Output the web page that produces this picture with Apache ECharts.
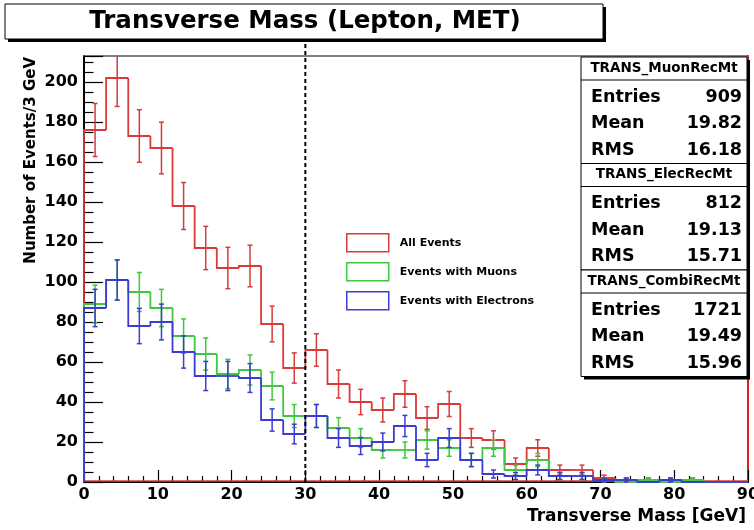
<!DOCTYPE html>
<html>
<head>
<meta charset="utf-8">
<script src="https://cdn.jsdelivr.net/npm/echarts@6/dist/echarts.min.js"></script>
<style>
  html, body { margin: 0; padding: 0; background: #ffffff; }
  #chart { width: 754px; height: 530px; }
</style>
</head>
<body>
<div id="chart"></div>
<script>
// Transverse mass histograms, 3 GeV bins between 0 and 90 GeV
const binWidth = 3;
const binStarts = [0, 3, 6, 9, 12, 15, 18, 21, 24, 27, 30, 33, 36, 39, 42, 45, 48, 51, 54, 57, 60, 63, 66, 69, 72, 75, 78, 81, 84, 87];
const allEvents  = [176, 202, 173, 167, 138, 117, 107, 108, 79, 57, 66, 49, 40, 36, 44, 32, 39, 22, 21, 9, 17, 6, 6, 2, 1, 1, 1, 1, 0, 0];
const muonEvents = [89, 101, 95, 87, 73, 64, 54, 56, 48, 33, 33, 27, 22, 16, 16, 21, 17, 11, 17, 6, 11, 3, 3, 1, 0, 1, 0, 1, 0, 0];
const elecEvents = [87, 101, 78, 80, 65, 53, 53, 52, 31, 24, 33, 22, 18, 20, 28, 11, 22, 11, 4, 3, 6, 3, 3, 1, 1, 0, 1, 0, 0, 0];
const seriesNames = ['All Events', 'Events with Muons', 'Events with Electrons'];

// Vertical cut line at 30 GeV
const cutLine = [[30, 0, 221]];

// Statistics boxes
const statTitles  = ['TRANS_MuonRecMt', 'TRANS_ElecRecMt', 'TRANS_CombiRecMt'];
const statEntries = ['909', '812', '1721'];
const statMeans   = ['19.82', '19.13', '19.49'];
const statRms     = ['16.18', '15.71', '15.96'];

const X_MIN = 0, X_MAX = 90, Y_MIN = 0, Y_MAX = 213;
const FONT = '"DejaVu Sans", "Liberation Sans", sans-serif';
const RED = '#d93a3a', GREEN = '#3fc83f', BLUE = '#3c3cd4';

function histSeries(name, values, color, drawBaseline) {
  const data = values.map((v, i) => [binStarts[i], binStarts[i] + binWidth, v, i > 0 ? values[i - 1] : 0]);
  return {
    type: 'custom',
    name: name,
    data: data,
    clip: false,
    itemStyle: { color: color },
    encode: { x: [0, 1], y: [2] },
    renderItem: function (params, api) {
      const x0 = api.value(0), x1 = api.value(1), v = api.value(2), prev = api.value(3);
      const clampV = t => Math.max(Y_MIN, Math.min(Y_MAX, t));
      const line = { stroke: color, lineWidth: 1.8, fill: null };
      const pPrev = api.coord([x0, clampV(prev)]);
      const pL = api.coord([x0, clampV(v)]);
      const pR = api.coord([x1, clampV(v)]);
      const children = [{ type: 'polyline', shape: { points: [pPrev, pL, pR] }, style: line }];
      if (drawBaseline) {
        const b0 = api.coord([x0, 0]), b1 = api.coord([x1, 0]);
        children.push({ type: 'line', shape: { x1: b0[0], y1: b0[1] - 1, x2: b1[0], y2: b1[1] - 1 }, style: { stroke: color, lineWidth: 1.5 } });
      }
      if (v > 0) {
        // Poisson uncertainty of the bin content
        const err = Math.sqrt(v);
        const xc = (x0 + x1) / 2;
        const hiV = v + err, loV = v - err;
        const pHi = api.coord([xc, clampV(hiV)]);
        const pLo = api.coord([xc, clampV(loV)]);
        const es = { stroke: color, lineWidth: 1.5 };
        children.push({ type: 'line', shape: { x1: pHi[0], y1: pHi[1], x2: pLo[0], y2: pLo[1] }, style: es });
        if (hiV <= Y_MAX) {
          children.push({ type: 'line', shape: { x1: pHi[0] - 2.5, y1: pHi[1], x2: pHi[0] + 2.5, y2: pHi[1] }, style: es });
        }
        children.push({ type: 'line', shape: { x1: pLo[0] - 2.5, y1: pLo[1], x2: pLo[0] + 2.5, y2: pLo[1] }, style: es });
      }
      return { type: 'group', children: children };
    }
  };
}

const cutSeries = {
  type: 'custom',
  name: 'cut',
  data: cutLine,
  clip: false,
  silent: true,
  z: 5,
  renderItem: function (params, api) {
    const p0 = api.coord([api.value(0), api.value(1)]);
    const p1 = api.coord([api.value(0), api.value(2)]);
    return { type: 'line', shape: { x1: p0[0], y1: p0[1], x2: p1[0], y2: p1[1] },
             style: { stroke: '#000', lineWidth: 2, lineDash: [4, 3] } };
  }
};

// Graphic elements: title box, statistics boxes, axis titles
const graphics = [];
graphics.push({ type: 'rect', shape: { x: 8, y: 7, width: 598, height: 35 }, style: { fill: '#000' }, z: 100 });
graphics.push({ type: 'rect', shape: { x: 5, y: 4, width: 598, height: 35 }, style: { fill: '#fff', stroke: '#000', lineWidth: 1 }, z: 101 });
graphics.push({ type: 'text', x: 305, y: 22, z: 102,
  style: { text: 'Transverse Mass (Lepton, MET)', font: 'bold 24.5px ' + FONT, fill: '#000', align: 'center', verticalAlign: 'middle' } });

const boxLeft = 581, boxWidth = 166, boxTops = [57, 163.5, 270], boxHeight = 106.5;
graphics.push({ type: 'rect', shape: { x: boxLeft + 3, y: boxTops[0] + 3, width: boxWidth, height: boxTops[2] + boxHeight - boxTops[0] }, style: { fill: '#000' }, z: 100 });
statTitles.forEach((title, i) => {
  const top = boxTops[i];
  graphics.push({ type: 'rect', shape: { x: boxLeft, y: top, width: boxWidth, height: boxHeight }, style: { fill: '#fff', stroke: '#000', lineWidth: 1 }, z: 101 });
  graphics.push({ type: 'line', shape: { x1: boxLeft, y1: top + 23, x2: boxLeft + boxWidth, y2: top + 23 }, style: { stroke: '#000', lineWidth: 1 }, z: 102 });
  graphics.push({ type: 'text', x: boxLeft + boxWidth / 2, y: top + 11, z: 102,
    style: { text: title, font: 'bold 13.5px ' + FONT, fill: '#000', align: 'center', verticalAlign: 'middle' } });
  const rows = [['Entries', statEntries[i]], ['Mean', statMeans[i]], ['RMS', statRms[i]]];
  rows.forEach((r, k) => {
    const y = top + 40 + k * 26.5;
    graphics.push({ type: 'text', x: boxLeft + 10, y: y, z: 102,
      style: { text: r[0], font: 'bold 17.5px ' + FONT, fill: '#000', align: 'left', verticalAlign: 'middle' } });
    graphics.push({ type: 'text', x: boxLeft + boxWidth - 5, y: y, z: 102,
      style: { text: r[1], font: 'bold 17.5px ' + FONT, fill: '#000', align: 'right', verticalAlign: 'middle' } });
  });
});
graphics.push({ type: 'text', x: 31, y: 57, rotation: Math.PI / 2, z: 50,
  style: { text: 'Number of Events/3 GeV', font: 'bold 15px ' + FONT, fill: '#000', align: 'right', verticalAlign: 'middle' } });
graphics.push({ type: 'text', x: 746, y: 517, z: 50,
  style: { text: 'Transverse Mass [GeV]', font: 'bold 17px ' + FONT, fill: '#000', align: 'right', verticalAlign: 'middle' } });

const chart = echarts.init(document.getElementById('chart'), null, { renderer: 'canvas' });
chart.setOption({
  animation: false,
  backgroundColor: '#ffffff',
  grid: { left: 84, top: 56, right: 6, bottom: 48, show: false, outerBoundsMode: 'none', containLabel: false },
  xAxis: [{
    type: 'value', min: X_MIN, max: X_MAX, interval: 10,
    axisLine: { show: true, onZero: false, lineStyle: { color: '#000', width: 2 } },
    axisTick: { show: true, inside: true, length: 12, lineStyle: { color: '#000', width: 1.2 } },
    minorTick: { show: true, splitNumber: 5, length: 6, lineStyle: { color: '#000', width: 1.2 } },
    axisLabel: { color: '#000', fontFamily: FONT, fontWeight: 'bold', fontSize: 16, margin: 5 },
    splitLine: { show: false }
  }, {
    type: 'value', position: 'top', min: X_MIN, max: X_MAX,
    axisLine: { show: true, onZero: false, lineStyle: { color: '#555', width: 1.5 } },
    axisTick: { show: false }, axisLabel: { show: false }, splitLine: { show: false }
  }],
  yAxis: [{
    type: 'value', min: Y_MIN, max: Y_MAX, interval: 20,
    axisLine: { show: true, onZero: false, lineStyle: { color: '#000', width: 2 } },
    axisTick: { show: true, inside: true, length: 19, lineStyle: { color: '#000', width: 1.2 } },
    minorTick: { show: true, splitNumber: 4, length: 9.5, lineStyle: { color: '#000', width: 1.2 } },
    axisLabel: { color: '#000', fontFamily: FONT, fontWeight: 'bold', fontSize: 16, margin: 6, showMaxLabel: false },
    splitLine: { show: false }
  }, {
    type: 'value', position: 'right', min: Y_MIN, max: Y_MAX,
    axisLine: { show: true, onZero: false, lineStyle: { color: '#e02020', width: 2 } },
    axisTick: { show: false }, axisLabel: { show: false }, splitLine: { show: false }
  }],
  legend: {
    orient: 'vertical', left: 346, top: 233, padding: 0,
    itemWidth: 42, itemHeight: 18, itemGap: 9.5,
    textStyle: { color: '#000', fontFamily: FONT, fontWeight: 'bold', fontSize: 11, padding: [0, 0, 0, 6] },
    data: [
      { name: seriesNames[0], icon: 'rect', itemStyle: { color: 'transparent', borderColor: RED, borderWidth: 1.5 } },
      { name: seriesNames[1], icon: 'rect', itemStyle: { color: 'transparent', borderColor: GREEN, borderWidth: 1.5 } },
      { name: seriesNames[2], icon: 'rect', itemStyle: { color: 'transparent', borderColor: BLUE, borderWidth: 1.5 } }
    ],
    selectedMode: false
  },
  graphic: graphics,
  series: [
    histSeries(seriesNames[0], allEvents, RED, true),
    histSeries(seriesNames[1], muonEvents, GREEN, false),
    histSeries(seriesNames[2], elecEvents, BLUE, false),
    cutSeries
  ]
});
</script>
</body>
</html>
